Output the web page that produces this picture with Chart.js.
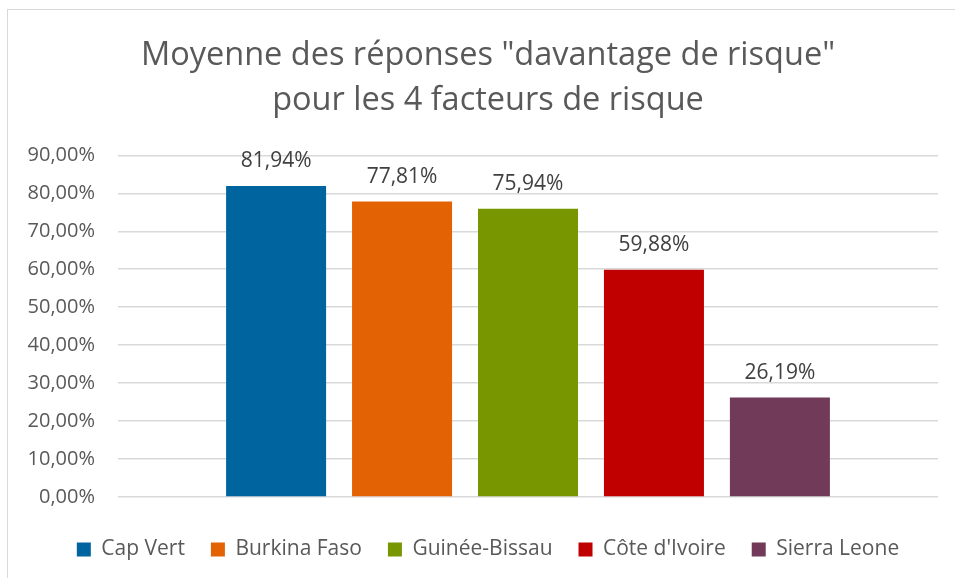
<!DOCTYPE html>
<html>
<head>
<meta charset="utf-8">
<script src="https://cdn.jsdelivr.net/npm/chart.js@4"></script>
<style>
  html, body { margin: 0; padding: 0; background: #fff; overflow: hidden; }
  #frame {
    position: absolute;
    left: 7px;
    top: 9px;
    width: 962px;
    height: 580px;
    border-left: 1px solid #d9d9d9;
    border-top: 1px solid #d9d9d9;
  }
</style>
</head>
<body>
<div id="frame">
  <canvas id="riskChart" width="962" height="568"></canvas>
</div>
<script>
// Moyenne des réponses "davantage de risque" - one group, one dataset per country
const titleLines = ['Moyenne des réponses "davantage de risque"', "pour les 4 facteurs de risque"];
const countries = ["Cap Vert", "Burkina Faso", "Guinée-Bissau", "Côte d'Ivoire", "Sierra Leone"];
const values = [81.94, 77.81, 75.94, 59.88, 26.19];
const colors = ["#00649e", "#e36304", "#779600", "#c00000", "#713a58"];
const yTicks = [0, 10, 20, 30, 40, 50, 60, 70, 80, 90];

const textColor = "#595959";
const fontFamily = "'Open Sans', sans-serif";

function pct(v) {
  return v.toFixed(2).replace(".", ",") + "%";
}

const valueLabels = {
  id: "valueLabels",
  afterDatasetsDraw(chart) {
    const ctx = chart.ctx;
    ctx.save();
    ctx.font = "21px " + fontFamily;
    ctx.fillStyle = "#404040";
    ctx.textAlign = "center";
    ctx.textBaseline = "middle";
    chart.data.datasets.forEach((ds, i) => {
      const bar = chart.getDatasetMeta(i).data[0];
      ctx.fillText(pct(ds.data[0]), bar.x, bar.y - 25);
    });
    ctx.restore();
  },
};

new Chart(document.getElementById("riskChart").getContext("2d"), {
  type: "bar",
  data: {
    labels: [""],
    datasets: countries.map((name, i) => ({
      label: name,
      data: [values[i]],
      backgroundColor: colors[i],
      categoryPercentage: 0.768,
      barPercentage: 0.794,
    })),
  },
  options: {
    responsive: false,
    animation: false,
    layout: {
      padding: { left: 10, right: 12, top: 0, bottom: 8 },
    },
    scales: {
      x: {
        grid: { display: false },
        border: { display: false },
        ticks: { display: false },
        afterFit(scale) {
          scale.height = 16;
        },
      },
      y: {
        min: 0,
        max: 90,
        afterBuildTicks(scale) {
          scale.ticks = yTicks.map((v) => ({ value: v }));
        },
        afterFit(scale) {
          scale.width = 100;
        },
        grid: { color: "#d9d9d9", lineWidth: 1.5, drawTicks: false },
        border: { display: false },
        ticks: {
          padding: 23,
          color: textColor,
          font: { family: fontFamily, size: 20 },
          callback: (v) => pct(v),
        },
      },
      // empty right-hand space so the title and legend sit where Excel puts them
      spacer: {
        type: "linear",
        position: "right",
        grid: { display: false },
        border: { display: false },
        ticks: { display: false },
        afterFit(scale) {
          scale.width = 20;
        },
      },
    },
    plugins: {
      title: {
        display: true,
        text: titleLines,
        color: textColor,
        font: { family: fontFamily, size: 32.5, weight: "normal", lineHeight: 1.39 },
        padding: { top: 23, bottom: 32 },
      },
      legend: {
        position: "bottom",
        labels: {
          boxWidth: 14,
          boxHeight: 14,
          padding: 26,
          color: textColor,
          font: { family: fontFamily, size: 21 },
        },
      },
      tooltip: { enabled: false },
    },
  },
  plugins: [valueLabels],
});
</script>
</body>
</html>
